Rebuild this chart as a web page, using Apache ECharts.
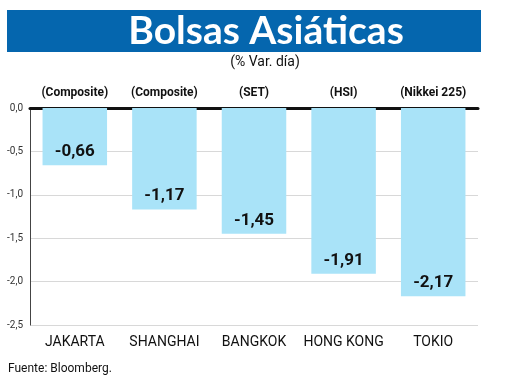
<!DOCTYPE html>
<html><head><meta charset="utf-8">
<script src="https://cdn.jsdelivr.net/npm/echarts@6/dist/echarts.min.js"></script>
<style>html,body{margin:0;padding:0;background:#fff}#c{width:520px;height:390px}</style>
</head><body><div id="c"></div>
<script>
const categories = ['JAKARTA','SHANGHAI','BANGKOK','HONG KONG','TOKIO'];
const indexNames = ['(Composite)','(Composite)','(SET)','(HSI)','(Nikkei 225)'];
const values = [-0.66,-1.17,-1.45,-1.91,-2.17];
const yTicks = [0,-0.5,-1.0,-1.5,-2.0,-2.5];

const fmt = v => v.toFixed(2).replace('.', ',');
const chart = echarts.init(document.getElementById('c'));
chart.setOption({
  animation:false,
  grid:{left:30,right:42,top:108,bottom:65},
  graphic:[
    {type:'rect',shape:{x:7,y:10,width:474,height:42},style:{fill:'#0566ae'}},
    {type:'text',x:266,y:31,style:{text:'Bolsas Asiáticas',fill:'#fff',font:'bold 39px Lato, "Open Sans", sans-serif',textAlign:'center',textVerticalAlign:'middle'}},
    {type:'text',x:265,y:62,style:{text:'(% Var. día)',fill:'#111',font:'14px Roboto, sans-serif',textAlign:'center',textVerticalAlign:'middle'}},
    {type:'text',x:8,y:369,style:{text:'Fuente: Bloomberg.',fill:'#111',font:'12px Roboto, sans-serif',textAlign:'left',textVerticalAlign:'middle'}}
  ],
  xAxis:[
    {type:'category',data:categories,position:'bottom',
     axisLine:{show:false,onZero:false},axisTick:{show:false},
     axisLabel:{interval:0,color:'#111',fontSize:14,fontFamily:'Roboto, sans-serif',margin:10}},
    {type:'category',data:indexNames,position:'top',
     axisLine:{show:true,onZero:false,lineStyle:{color:'#111',width:3}},axisTick:{show:false},
     axisLabel:{interval:0,color:'#111',fontSize:12,fontWeight:'bold',fontFamily:'Roboto, sans-serif',margin:9}}
  ],
  yAxis:{type:'value',min:-2.5,max:0,interval:0.5,
    axisLine:{show:true,lineStyle:{color:'#444',width:1}},axisTick:{show:false},
    splitLine:{lineStyle:{color:'#d8d8d8',width:1}},
    axisLabel:{color:'#333',fontSize:10,margin:7,fontFamily:'Roboto, sans-serif',
      formatter:v=>v.toFixed(1).replace('.',',')}},
  series:[{type:'bar',data:values,barWidth:'72%',xAxisIndex:0,
    itemStyle:{color:'#a9e3f8'},
    label:{show:true,position:'insideBottom',distance:5,color:'#111',fontSize:17,fontWeight:'bold',
      fontFamily:'Roboto, sans-serif',formatter:p=>fmt(p.value)}}]
});
</script></body></html>
